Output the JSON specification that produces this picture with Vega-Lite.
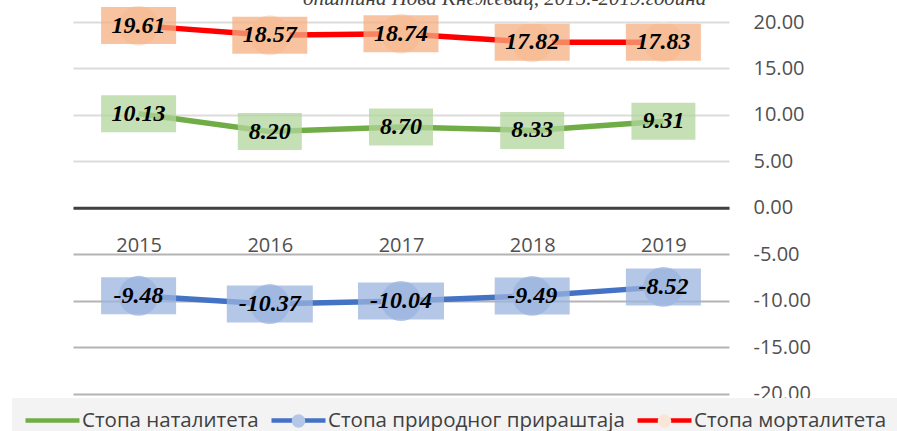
{
  "$schema": "https://vega.github.io/schema/vega-lite/v6.json",
  "width": 656,
  "height": 371.5,
  "autosize": {"type": "none"},
  "padding": {"left": 73, "top": 22, "right": 168, "bottom": 37.5},
  "background": "white",
  "title": {
    "text": "општина Нова Кнежевац, 2015.-2019.година",
    "frame": "group",
    "anchor": "start",
    "dx": 230,
    "offset": 0,
    "dy": 20,
    "baseline": "alphabetic",
    "font": "Liberation Serif",
    "fontStyle": "italic",
    "fontWeight": "normal",
    "fontSize": 21,
    "color": "#404040"
  },
  "config": {
    "view": {"stroke": null},
    "locale": {
      "number": {"decimal": ".", "thousands": ",", "grouping": [3], "currency": ["$", ""], "minus": "-"}
    }
  },
  "data": {
    "values": [
      {"year": "2015", "series": "Стопа наталитета", "value": 10.13},
      {"year": "2016", "series": "Стопа наталитета", "value": 8.20},
      {"year": "2017", "series": "Стопа наталитета", "value": 8.70},
      {"year": "2018", "series": "Стопа наталитета", "value": 8.33},
      {"year": "2019", "series": "Стопа наталитета", "value": 9.31},
      {"year": "2015", "series": "Стопа природног прираштаја", "value": -9.48},
      {"year": "2016", "series": "Стопа природног прираштаја", "value": -10.37},
      {"year": "2017", "series": "Стопа природног прираштаја", "value": -10.04},
      {"year": "2018", "series": "Стопа природног прираштаја", "value": -9.49},
      {"year": "2019", "series": "Стопа природног прираштаја", "value": -8.52},
      {"year": "2015", "series": "Стопа морталитета", "value": 19.61},
      {"year": "2016", "series": "Стопа морталитета", "value": 18.57},
      {"year": "2017", "series": "Стопа морталитета", "value": 18.74},
      {"year": "2018", "series": "Стопа морталитета", "value": 17.82},
      {"year": "2019", "series": "Стопа морталитета", "value": 17.83}
    ]
  },
  "encoding": {
    "x": {
      "field": "year",
      "type": "ordinal",
      "scale": {"type": "point", "padding": 0.5},
      "axis": {
        "orient": "bottom",
        "offset": -185.75,
        "title": null,
        "labelAngle": 0,
        "ticks": false,
        "grid": false,
        "domainColor": "#404040",
        "domainWidth": 3,
        "labelFont": "Open Sans",
        "labelFontSize": 20,
        "labelColor": "#505050",
        "labelPadding": 28
      }
    },
    "y": {
      "field": "value",
      "type": "quantitative",
      "scale": {"domain": [-20, 20], "nice": false},
      "axis": {
        "orient": "right",
        "values": [-20, -15, -10, -5, 0, 5, 10, 15, 20],
        "format": ".2f",
        "title": null,
        "domain": false,
        "ticks": false,
        "labelPadding": 24,
        "labelFont": "Open Sans",
        "labelFontSize": 20,
        "labelColor": "#505050",
        "labelOverlap": false,
        "gridColor": {"condition": {"test": "datum.value < 0", "value": "#b4b4b4"}, "value": "#dcdcdc"},
        "gridWidth": 2
      }
    }
  },
  "layer": [
    {
      "mark": {"type": "line", "strokeWidth": 5.5},
      "encoding": {
        "stroke": {
          "field": "series",
          "type": "nominal",
          "scale": {
            "domain": ["Стопа наталитета", "Стопа природног прираштаја", "Стопа морталитета"],
            "range": ["#70ad47", "#4472c4", "#ff0000"]
          },
          "legend": {
            "orient": "none",
            "legendX": -61,
            "legendY": 376,
            "direction": "horizontal",
            "title": null,
            "symbolType": "M-1,0H5",
            "symbolSize": 324,
            "symbolStrokeWidth": 4.5,
            "labelFont": "Open Sans",
            "labelFontSize": 20.5,
            "labelColor": "#404040",
            "labelOffset": 36,
            "labelLimit": 500,
            "columnPadding": 3,
            "padding": 11,
            "fillColor": "#f3f3f3"
          }
        }
      }
    },
    {
      "mark": {"type": "point", "filled": true, "shape": "circle", "size": 1590, "opacity": 1},
      "encoding": {
        "fill": {
          "field": "series",
          "type": "nominal",
          "scale": {
            "domain": ["Стопа наталитета", "Стопа природног прираштаја", "Стопа морталитета", "-"],
            "range": ["transparent", "#b4c7e7", "#fbe5d6", "transparent"]
          },
          "legend": {
            "orient": "none",
            "legendX": -61,
            "legendY": 376,
            "direction": "horizontal",
            "title": null,
            "values": ["Стопа наталитета", "Стопа природног прираштаја", "Стопа морталитета"],
            "symbolType": "M-1,0H5M1.25,0A0.75,0.75 0 1,1 2.75,0A0.75,0.75 0 1,1 1.25,0Z",
            "symbolSize": 324,
            "symbolStrokeWidth": 4.5,
            "symbolStrokeColor": "transparent",
            "symbolOpacity": 1,
            "labelFont": "Open Sans",
            "labelFontSize": 20.5,
            "labelColor": "transparent",
            "labelOffset": 36,
            "labelLimit": 500,
            "columnPadding": 3,
            "padding": 11
          }
        }
      }
    },
    {
      "mark": {
        "type": "point",
        "filled": true,
        "size": 4,
        "opacity": 1,
        "fillOpacity": 0.75,
        "shape": {"expr": "'M' + (-(11*length(format(datum.value,'.2f'))+20)/2) + ',-18.5H' + ((11*length(format(datum.value,'.2f'))+20)/2) + 'V18.5H' + (-(11*length(format(datum.value,'.2f'))+20)/2) + 'Z'"}
      },
      "encoding": {
        "color": {
          "field": "series",
          "type": "nominal",
          "scale": {
            "domain": ["Стопа наталитета", "Стопа природног прираштаја", "Стопа морталитета"],
            "range": ["#b2d69b", "#9bb4df", "#f4af80"]
          },
          "legend": null
        }
      }
    },
    {
      "mark": {
        "type": "text",
        "font": "Liberation Serif",
        "fontStyle": "italic",
        "fontWeight": "bold",
        "fontSize": 24,
        "color": "#000000"
      },
      "encoding": {
        "text": {"field": "value", "type": "quantitative", "format": ".2f"}
      }
    }
  ]
}
